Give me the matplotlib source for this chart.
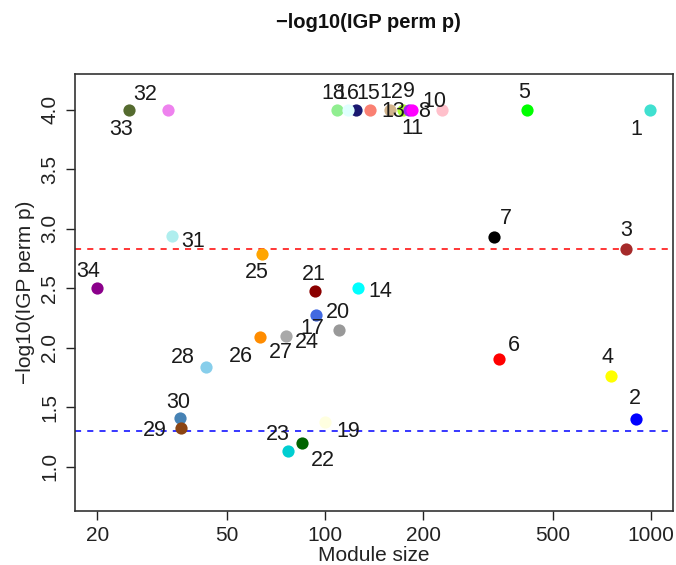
import matplotlib
matplotlib.use("Agg")
import matplotlib.pyplot as plt
from matplotlib.ticker import FixedLocator, NullLocator

# ---- data ----
module_ids = list(range(1, 35))
module_size = [990, 900, 839, 755, 417, 342, 330, 228, 185, 181, 173, 158, 137, 126,
               124, 118, 110, 109, 100, 94, 93, 85, 77, 76, 64, 63, 62, 43, 36.2,
               35.8, 34, 33, 25, 20]
neglog_p = [4.0, 1.40, 2.83, 1.76, 4.0, 1.91, 2.93, 4.0, 4.0, 4.0, 4.0, 4.0, 4.0, 2.50,
            4.0, 4.0, 2.15, 4.0, 1.38, 2.28, 2.48, 1.20, 1.13, 2.10, 2.79, 2.095,
            1.96, 1.84, 1.325, 1.41, 2.94, 4.0, 4.0, 2.50]
module_colors = ["#40E0D0", "#0000FF", "#A52A2A", "#FFFF00", "#00FF00", "#FF0000",
                 "#000000", "#FFC0CB", "#FF00FF", "#A020F0", "#ADFF2F", "#D2B48C",
                 "#FA8072", "#00FFFF", "#191970", "#E0FFFF", "#999999", "#90EE90",
                 "#FFFFE0", "#4169E1", "#8B0000", "#006400", "#00CED1", "#A9A9A9",
                 "#FFA500", "#FF8C00", "#FFFFFF", "#87CEEB", "#8B4513", "#4682B4",
                 "#AFEEEE", "#EE82EE", "#556B2F", "#8B008B"]
bonferroni_line = 2.8325   # -log10(0.05/34)
nominal_line = 1.301       # -log10(0.05)
x_ticks = [20, 50, 100, 200, 500, 1000]
y_ticks = [1.0, 1.5, 2.0, 2.5, 3.0, 3.5, 4.0]

# label offsets (pixels) from each point
label_offsets = {
    1: (-13, -20), 2: (-1, 21), 3: (0, 19), 4: (-4, 19), 5: (-3, 17),
    6: (15, 13), 7: (12, 19), 8: (-18, -2), 9: (-3, 18), 10: (25, 8),
    11: (10, -19), 12: (1, 17), 13: (24, -2), 14: (23, -3), 15: (13, 16),
    16: (-1, 16), 17: (-26, 2), 18: (-4, 16), 19: (23, -10), 20: (22, 2),
    21: (-1, 16), 22: (21, -17), 23: (-10, 17), 24: (21, -7), 25: (-5, -19),
    26: (-19, -20), 27: (23, 0), 28: (-23, 9), 29: (-26, -2), 30: (-1, 16),
    31: (21, -6), 32: (-23, 15), 33: (-8, -20), 34: (-9, 17),
}

plt.rcParams['font.family'] = ['Liberation Sans', 'DejaVu Sans']

fig = plt.figure(figsize=(6.76, 5.65), dpi=100)
ax = fig.add_axes([0.111, 0.0956, 0.8846, 0.7734])

# draw order: lower index on top, except 16 over 15
n = len(module_ids)
for i in range(n):
    mid = module_ids[i]
    z = 3 + (n - mid) * 0.01
    if mid == 16:
        z = 3 + (n - 14.5) * 0.01
    ax.plot(module_size[i], neglog_p[i], 'o', color=module_colors[i],
            markersize=8.8, markeredgewidth=0, zorder=z)

for i in range(n):
    mid = module_ids[i]
    dx, dy = label_offsets[mid]
    ax.annotate(str(mid), (module_size[i], neglog_p[i]), xytext=(dx, dy),
                textcoords='offset pixels', ha='center', va='center',
                fontsize=15.5, color='#1a1a1a', zorder=10)

ax.axhline(bonferroni_line, color='#FF0000', linestyle=(0, (4, 4)), linewidth=1.1, zorder=2)
ax.axhline(nominal_line, color='#0000FF', linestyle=(0, (4, 4)), linewidth=1.1, zorder=2)

ax.set_xscale('log')
ax.set_xlim(17.1, 1168)
ax.set_ylim(0.63, 4.30)
ax.xaxis.set_major_locator(FixedLocator(x_ticks))
ax.xaxis.set_minor_locator(NullLocator())
ax.set_xticklabels([str(t) for t in x_ticks])
ax.set_yticks(y_ticks)
ax.set_yticklabels([f"{t:.1f}" for t in y_ticks], rotation=90, va='center')

ax.tick_params(axis='both', direction='out', length=6.5, width=1, labelsize=15,
               color='#222222', labelcolor='#222222')
ax.tick_params(axis='x', pad=4)
ax.tick_params(axis='y', pad=5)
for s in ax.spines.values():
    s.set_linewidth(1.2)
    s.set_color('#333333')

ax.set_xlabel('Module size', fontsize=15, labelpad=1, color='#222222')
ax.set_ylabel('\u2212log10(IGP perm p)', fontsize=15, labelpad=4, color='#222222')
fig.text(0.545, 0.96, '\u2212log10(IGP perm p)', ha='center', va='center',
         fontsize=14.5, fontweight='bold', color='#111111')

fig.savefig('out.png', dpi=100)
